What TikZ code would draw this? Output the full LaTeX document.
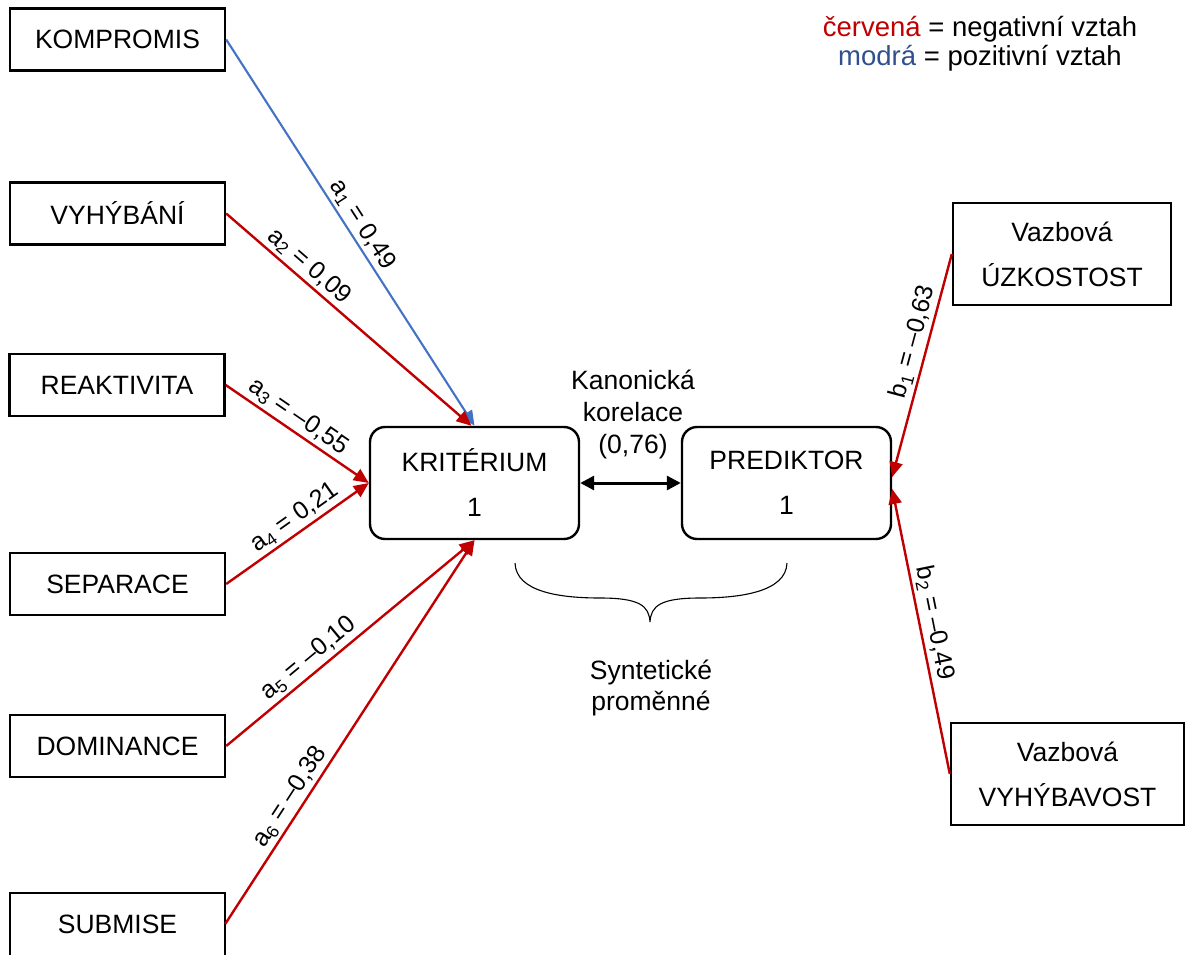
\documentclass[tikz,border=0pt]{standalone}
\usepackage{fontspec}
\setmainfont{Liberation Sans}
\usetikzlibrary{arrows.meta}
\definecolor{negred}{RGB}{192,0,0}
\definecolor{posblue}{RGB}{68,114,196}
\definecolor{legblue}{RGB}{47,80,140}
\begin{document}
\begin{tikzpicture}[x=1pt,y=-1pt,
  every node/.style={font=\fontsize{26.5}{45}\selectfont, inner sep=0pt},
  boxline/.style={draw=black, line width=2.4pt},
  varbox/.style={boxline, minimum width=215pt, minimum height=62pt},
  synbox/.style={boxline, rounded corners=15pt, minimum width=209pt, minimum height=112pt, align=center},
  vazbox/.style={boxline, minimum height=102pt, align=center},
  arrtip/.style={-{Triangle[length=15pt,width=13pt]}},
  negarr/.style={arrtip, draw=negred, line width=2.4pt},
  posarr/.style={arrtip, draw=posblue, line width=2.1pt},
  lab/.style={sloped, above, inner sep=3pt, font=\fontsize{25}{30}\selectfont}
]
\useasboundingbox (0,0) rectangle (1191,955);
\begin{scope}
\clip (0,0) rectangle (1191,955);
\node[varbox] (komp) at (117.5,39.5) {KOMPROMIS};
\node[varbox] (vyh) at (117.5,213.5) {VYHÝBÁNÍ};
\node[varbox] (reak) at (117,385) {REAKTIVITA};
\node[varbox] (sep) at (117.5,584) {SEPARACE};
\node[varbox] (dom) at (117.5,746) {DOMINANCE};
\node[minimum width=215pt, minimum height=62pt] (sub) at (117.5,924) {SUBMISE};
\draw[boxline] ([yshift=-12pt]sub.south west) -- (sub.north west) -- (sub.north east) -- ([yshift=-12pt]sub.south east);

\node[synbox] (krit) at (474.5,483) {KRITÉRIUM\\1};
\node[synbox] (pred) at (786.5,483) {PREDIKTOR\\1};

\node[vazbox, minimum width=218pt] (uzk) at (1062,254) {Vazbová\\ÚZKOSTOST};
\node[vazbox, minimum width=233pt] (vyhb) at (1067.5,774) {Vazbová\\VYHÝBAVOST};

\draw[posarr] (komp.east) -- node[lab, pos=0.5] {a\textsubscript{1} = 0,49} (krit.north);
\draw[negarr] (vyh.east) -- node[lab, pos=0.3] {a\textsubscript{2} = 0,09} ([xshift=-3pt]krit.north);
\draw[negarr] (reak.east) -- node[lab, pos=0.45] {a\textsubscript{3} = \textendash0,55} (krit.west);
\draw[negarr] (sep.east) -- node[lab, pos=0.54] {a\textsubscript{4} = 0,21} (krit.west);
\draw[negarr] (dom.east) -- node[lab, pos=0.37] {a\textsubscript{5} = \textendash0,10} (krit.south);
\draw[negarr] (sub.east) -- node[lab, pos=0.31] {a\textsubscript{6} = \textendash0,38} (krit.south);

\draw[negarr] (uzk.west) -- node[lab, pos=0.41] {b\textsubscript{1} = \textendash0,63} ([yshift=6pt]pred.east);
\draw[negarr] (vyhb.west) -- node[lab, pos=0.52] {b\textsubscript{2} = \textendash0,49} ([yshift=-6pt]pred.east);

\draw[line width=3pt, {Triangle[length=14pt,width=14pt]}-{Triangle[length=14pt,width=14pt]}] (krit.east) -- (pred.west);

\node[align=center, font=\fontsize{26.5}{32}\selectfont] (kan) at (633,414) {Kanonická\\korelace\\(0,76)};

\draw[line width=1.1pt] (515,563) .. controls (516,592) and (560,598) .. (600,598)
  .. controls (640,598) and (649,606) .. (650,622) coordinate (bracetip)
  .. controls (651,606) and (660,598) .. (700,598)
  .. controls (740,598) and (786,592) .. (787,563);

\node[align=center, font=\fontsize{26.5}{31}\selectfont] (syn) at (651,688) {Syntetické\\proměnné};

\node[align=center, font=\fontsize{27.5}{29}\selectfont] (leg) at (980,44) {\textcolor{negred}{červená} = negativní vztah\\\textcolor{legblue}{modrá} = pozitivní vztah};
\end{scope}
\end{tikzpicture}
\end{document}
